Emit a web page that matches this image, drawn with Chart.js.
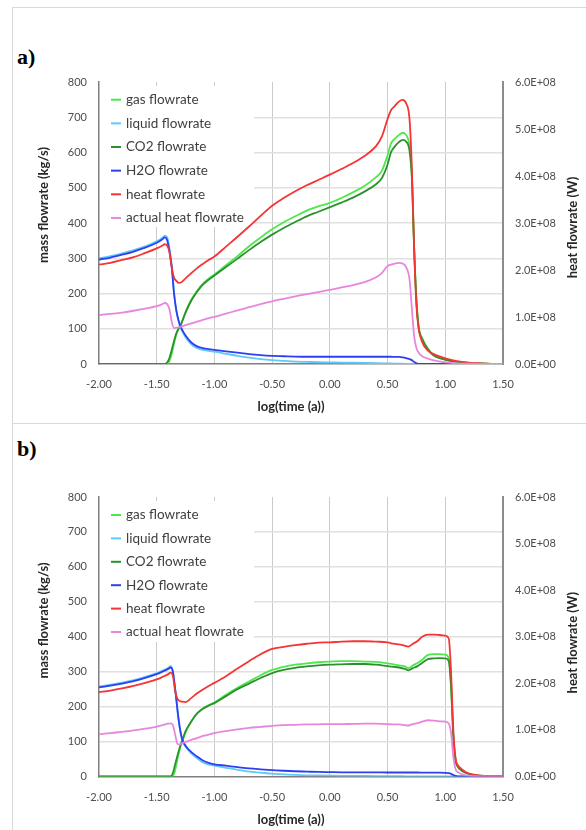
<!DOCTYPE html>
<html><head><meta charset="utf-8">
<script src="https://cdn.jsdelivr.net/npm/chart.js@4.4.1/dist/chart.umd.min.js"></script>
<style>
html,body{margin:0;padding:0;background:#fff;width:586px;height:830px;overflow:hidden;position:relative;font-family:Lato,sans-serif}
.hl{position:absolute;background:#d9d9d9}
.lbl{position:absolute;font:bold 22px "Liberation Serif","Times New Roman",serif;line-height:22px;color:#000}
canvas{position:absolute;left:0}
</style></head><body>
<div class="hl" style="left:12px;top:7px;width:574px;height:1px"></div>
<div class="hl" style="left:12px;top:7px;width:1px;height:823px"></div>
<div class="hl" style="left:12px;top:423px;width:574px;height:1px"></div>
<div class="lbl" style="left:17px;top:46px">a)</div>
<div class="lbl" style="left:17px;top:438px">b)</div>
<canvas id="ca" width="586" height="420" style="top:0"></canvas>
<canvas id="cb" width="586" height="407" style="top:423px"></canvas>
<script>
// ---------- labels ----------
const seriesNames = ['gas flowrate','liquid flowrate','CO2 flowrate','H2O flowrate','heat flowrate','actual heat flowrate'];
const xTitle = 'log(time (a))';
const yTitle = 'mass flowrate (kg/s)';
const y1Title = 'heat flowrate (W)';
const panelNames = ['a)','b)'];

// ---------- panel a data ----------
const xA = [-2.00,-1.90,-1.80,-1.70,-1.60,-1.50,-1.45,-1.43,-1.41,-1.39,-1.37,-1.35,-1.33,-1.31,-1.29,-1.25,-1.20,-1.15,-1.10,-1.05,-1.00,-0.90,-0.80,-0.70,-0.60,-0.50,-0.40,-0.30,-0.20,-0.10,0.00,0.10,0.20,0.30,0.40,0.45,0.50,0.53,0.56,0.60,0.63,0.66,0.69,0.71,0.73,0.75,0.77,0.80,0.85,0.90,1.00,1.10,1.20,1.30,1.40,1.50];
const gasA = [0,0,0,0,0,0,0,0,1,8,28,58,84,100,112,148,183,208,228,242,254,280,306,334,359,382,402,419,435,447,457,471,487,505,530,548,592,626,638,650,656,650,620,540,335,185,105,73,43,25,13,6,3,1.5,0.5,0];
const liqA = [300,306,314,323,334,348,358,364,360,330,280,203,150,120,100,76,56,45,40,37,35,29,23,18,14,11,9,7,6,5,4.5,4,3.5,3,2.5,2,2,1.5,1.2,1,0.8,0.6,0.4,0.3,0.2,0.1,0,0,0,0,0,0,0,0,0,0];
const co2A = [0,0,0,0,0,0,0,0,4,17,40,65,87,101,112,146,180,205,225,239,251,275,299,323,346,367,386,403,419,432,445,458,472,489,510,527,566,601,616,630,636,631,605,530,330,180,101,71,42,24,12,6,3,1.5,0.5,0];
const h2oA = [296,302,310,319,330,344,354,359,352,320,275,200,152,123,104,81,61,50,45,42,40,36,32,28,25,23,22,21,20.5,20.5,20.5,20.5,20.5,20.5,20.5,20.5,20.5,20.5,20,20,19,17,14,11,6,2,0.5,0,0,0,0,0,0,0,0,0];
const heatA = [2.115e8,2.153e8,2.213e8,2.273e8,2.363e8,2.46e8,2.52e8,2.55e8,2.52e8,2.385e8,2.063e8,1.838e8,1.77e8,1.725e8,1.733e8,1.823e8,1.935e8,2.04e8,2.13e8,2.213e8,2.288e8,2.498e8,2.708e8,2.925e8,3.15e8,3.368e8,3.53e8,3.675e8,3.803e8,3.915e8,4.028e8,4.148e8,4.275e8,4.425e8,4.635e8,4.838e8,5.213e8,5.40e8,5.483e8,5.588e8,5.618e8,5.55e8,5.213e8,4.20e8,2.475e8,1.238e8,0.75e8,0.465e8,0.285e8,0.21e8,0.12e8,0.06e8,0.03e8,0.015e8,0.004e8,0];
const actA = [1.043e8,1.065e8,1.095e8,1.133e8,1.178e8,1.23e8,1.275e8,1.298e8,1.275e8,1.17e8,0.90e8,0.765e8,0.773e8,0.78e8,0.795e8,0.825e8,0.863e8,0.90e8,0.938e8,0.975e8,1.005e8,1.073e8,1.14e8,1.208e8,1.275e8,1.335e8,1.388e8,1.44e8,1.485e8,1.53e8,1.575e8,1.628e8,1.68e8,1.74e8,1.845e8,1.935e8,2.085e8,2.115e8,2.138e8,2.153e8,2.138e8,2.063e8,1.80e8,1.20e8,0.60e8,0.338e8,0.24e8,0.165e8,0.113e8,0.075e8,0.034e8,0.015e8,0.008e8,0.004e8,0,0];

// ---------- panel b data ----------
const xB = [-2.00,-1.90,-1.80,-1.70,-1.60,-1.50,-1.45,-1.40,-1.38,-1.36,-1.34,-1.32,-1.30,-1.28,-1.25,-1.20,-1.15,-1.10,-1.05,-1.00,-0.90,-0.80,-0.70,-0.60,-0.50,-0.40,-0.30,-0.20,-0.10,0.00,0.10,0.20,0.30,0.40,0.50,0.55,0.60,0.65,0.68,0.72,0.76,0.80,0.85,0.90,0.95,1.00,1.03,1.05,1.07,1.09,1.11,1.14,1.18,1.25,1.35,1.50];
const gasB = [0,0,0,0,0,0,0,0,0,2,18,50,78,98,126,157,180,195,204,212,234,254,272,290,305,314,320,324,327,329,330,330,329,328,324,321,318,315,310,318,325,334,348,350,350,349,338,260,115,45,28,18,10,4,1,0];
const liqB = [258,263,269,276,285,296,303,311,316,302,250,188,136,104,85,66,52,40,34,31,25,19,14,11,8,6,4.5,3.5,3,2.5,2,1.8,1.5,1.2,1,0.8,0.7,0.6,0.5,0.5,0.4,0.4,0.3,0.3,0.3,0.2,0.1,0,0,0,0,0,0,0,0,0];
const co2B = [0,0,0,0,0,0,0,0,0,10,35,60,84,102,130,158,181,194,203,210,230,250,266,282,296,305,311,315,318,320,321,322,322,320,316,314,312,308,304,310,316,325,336,338,339,338,330,255,112,44,27,17,10,4,1,0];
const h2oB = [255,260,266,273,282,293,300,308,312,300,250,190,140,108,88,70,57,46,39,35,31,27,23,20.5,18.5,16.5,15,14,13,12.5,12,12,12,12,11.5,11.5,11.5,11.5,11.5,11.5,11.5,11,11,11,11,10.5,9.5,7.5,4,1.5,0.5,0,0,0,0,0];
const heatB = [1.808e8,1.845e8,1.89e8,1.943e8,2.01e8,2.085e8,2.138e8,2.198e8,2.228e8,2.16e8,1.838e8,1.665e8,1.62e8,1.605e8,1.598e8,1.688e8,1.785e8,1.868e8,1.943e8,2.01e8,2.153e8,2.318e8,2.475e8,2.625e8,2.738e8,2.783e8,2.82e8,2.85e8,2.873e8,2.88e8,2.895e8,2.903e8,2.903e8,2.895e8,2.88e8,2.85e8,2.835e8,2.805e8,2.79e8,2.85e8,2.91e8,3.00e8,3.045e8,3.045e8,3.038e8,3.023e8,2.963e8,2.25e8,0.975e8,0.375e8,0.24e8,0.165e8,0.09e8,0.038e8,0.011e8,0];
const actB = [0.908e8,0.93e8,0.96e8,0.99e8,1.028e8,1.073e8,1.103e8,1.133e8,1.14e8,1.103e8,0.90e8,0.698e8,0.69e8,0.713e8,0.743e8,0.788e8,0.825e8,0.87e8,0.90e8,0.93e8,0.975e8,1.013e8,1.043e8,1.065e8,1.088e8,1.103e8,1.11e8,1.118e8,1.121e8,1.125e8,1.125e8,1.129e8,1.133e8,1.133e8,1.125e8,1.118e8,1.118e8,1.103e8,1.095e8,1.125e8,1.148e8,1.178e8,1.208e8,1.20e8,1.185e8,1.178e8,1.14e8,0.938e8,0.413e8,0.15e8,0.09e8,0.053e8,0.023e8,0.008e8,0,0];

// ---------- axis ticks ----------
const xTickMin = -2, xTickMax = 1.5, xTickStep = 0.5;
const yTickMin = 0, yTickMax = 800, yTickStep = 100;
const y1TickMin = 0, y1TickMax = 6e8, y1TickStep = 1e8;

const COLORS = ['rgb(76,232,76)','rgb(96,200,250)','rgb(44,145,44)','rgb(44,64,240)','rgb(245,52,52)','rgb(232,134,222)'];
const AXES = ['y','y','y','y','y1','y1'];

const deco = {
  id: 'deco',
  beforeDatasetsDraw(chart, args, o) {
    const ctx = chart.ctx;
    ctx.save();
    ctx.fillStyle = '#fff';
    ctx.fillRect(o.box[0], o.box[1], o.box[2], o.box[3]);
    ctx.restore();
  },
  afterDraw(chart, args, o) {
    const ctx = chart.ctx;
    ctx.save();
    ctx.font = '13.5px Lato';
    ctx.textBaseline = 'middle';
    ctx.textAlign = 'left';
    chart.data.datasets.forEach((d, i) => {
      const y = o.legY + i * o.legStep;
      ctx.strokeStyle = d.borderColor;
      ctx.lineWidth = 2;
      ctx.beginPath(); ctx.moveTo(o.legX, y); ctx.lineTo(o.legX + 10, y); ctx.stroke();
      ctx.fillStyle = '#404040';
      ctx.fillText(d.label, o.legX + 15, y);
    });
    ctx.font = 'bold 13px Lato';
    ctx.fillStyle = '#262626';
    ctx.textAlign = 'center';
    ctx.fillText(xTitle, o.xt[0], o.xt[1]);
    ctx.save(); ctx.translate(o.yt[0], o.yt[1]); ctx.rotate(-Math.PI / 2); ctx.fillText(yTitle, 0, 0); ctx.restore();
    ctx.save(); ctx.translate(o.y1t[0], o.y1t[1]); ctx.rotate(-Math.PI / 2); ctx.fillText(y1Title, 0, 0); ctx.restore();
    ctx.restore();
  }
};

function makeChart(id, xs, series, cfg) {
  const datasets = series.map((arr, i) => ({
    label: seriesNames[i],
    data: xs.map((x, j) => ({x: x, y: arr[j]})),
    borderColor: COLORS[i],
    backgroundColor: COLORS[i],
    yAxisID: AXES[i],
    order: 6 - i,
    borderWidth: 1.8,
    pointRadius: 0,
    cubicInterpolationMode: 'monotone',
    fill: false
  }));
  const tickFont = {family: 'Lato', size: 11};
  return new Chart(document.getElementById(id), {
    type: 'line',
    data: {datasets},
    plugins: [deco],
    options: {
      responsive: false,
      devicePixelRatio: 1,
      animation: false,
      layout: {padding: {top: cfg.top, left: 0, right: 0, bottom: 0}},
      plugins: {legend: {display: false}, tooltip: {enabled: false}, deco: cfg.deco},
      scales: {
        x: {
          type: 'linear', min: xTickMin, max: xTickMax,
          afterFit: s => { s.height = cfg.xH; },
          ticks: {stepSize: xTickStep, autoSkip: false, maxRotation: 0, padding: 14, color: '#4d4d4d', font: tickFont,
                  callback: v => Number(v).toFixed(2)},
          grid: {drawTicks: false, lineWidth: 1,
                 color: c => (c.tick && (Math.abs(c.tick.value - xTickMin) < 1e-6 || Math.abs(c.tick.value - xTickMax) < 1e-6)) ? 'rgba(0,0,0,0)' : '#cbcbcb'},
          border: {color: '#7f7f7f', width: 1.5}
        },
        y: {
          position: 'left', min: yTickMin, max: yTickMax,
          afterFit: s => { s.width = 99; },
          ticks: {stepSize: yTickStep, padding: 12, color: '#4d4d4d', font: tickFont},
          grid: {drawTicks: false, lineWidth: 1.5,
                 color: c => (c.tick && (c.tick.value === yTickMin || c.tick.value === yTickMax)) ? 'rgba(0,0,0,0)' : '#e0e0e0'},
          border: {color: '#7f7f7f', width: 1.5}
        },
        y1: {
          position: 'right', min: y1TickMin, max: y1TickMax,
          afterFit: s => { s.width = 83; },
          ticks: {stepSize: y1TickStep, padding: 12, color: '#4d4d4d', font: tickFont,
                  callback: v => { const m = Math.round(v / 1e7) / 10; return m.toFixed(1) + (m === 0 ? 'E+00' : 'E+08'); }},
          grid: {drawOnChartArea: false, drawTicks: false},
          border: {color: '#8c8c8c', width: 2}
        }
      }
    }
  });
}

makeChart('ca', xA, [gasA, liqA, co2A, h2oA, heatA, actA], {
  top: 82, xH: 56,
  deco: {box: [100, 86, 154, 141], legX: 111, legY: 99.7, legStep: 23.65, xt: [291, 407], yt: [44, 205], y1t: [573, 227.5]}
});
makeChart('cb', xB, [gasB, liqB, co2B, h2oB, heatB, actB], {
  top: 74, xH: 53.5,
  deco: {box: [100, 78, 154, 141], legX: 111, legY: 92, legStep: 23.4, xt: [291, 397], yt: [44, 197.5], y1t: [573, 219.7]}
});
</script>
</body></html>
